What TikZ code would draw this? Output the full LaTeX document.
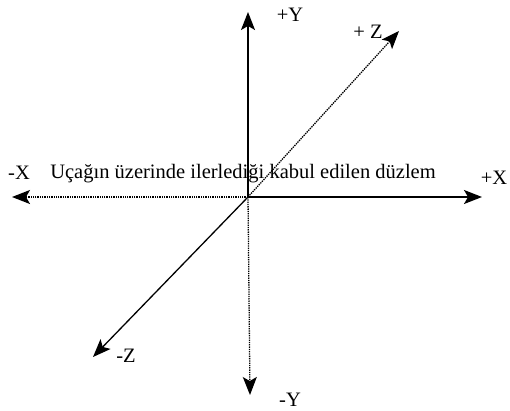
\documentclass[tikz,border=0pt]{standalone}
\usepackage{fontspec}
\setmainfont{Liberation Serif}
\usetikzlibrary{arrows.meta}

\begin{document}
\begin{tikzpicture}[
    x=1pt, y=1pt,
    >={Stealth[length=18pt, width=14pt, inset=4pt]},
    axis/.style={->, line width=1.3pt},
    dotaxis/.style={->, line width=1.3pt, densely dotted},
    lbl/.style={font=\fontsize{20.5}{23}\selectfont, inner sep=0pt}
]
    \useasboundingbox (0,0) rectangle (510,410);

    % Origin and axis ends
    \coordinate (o) at (248,213);
    \coordinate (xpos) at (482,213);
    \coordinate (xneg) at (12,213);
    \coordinate (ypos) at (248,398);
    \coordinate (yneg) at (250,15);
    \coordinate (zpos) at (399,379);
    \coordinate (zneg) at (93,53);

    % Axes
    \draw[axis] (o) -- (xpos);
    \draw[dotaxis] (o) -- (xneg);
    \draw[axis] (o) -- (ypos);
    \draw[dotaxis] (o) -- (yneg);
    \draw[dotaxis] (o) -- (zpos);
    \draw[axis] (o) -- (zneg);

    % Labels
    \node[lbl] (lxpos) at (494,232) {+X};
    \node[lbl] (lxneg) at (19,237) {-X};
    \node[lbl] (lypos) at (290,395) {+Y};
    \node[lbl] (lyneg) at (290,10) {-Y};
    \node[lbl] (lzpos) at (368,378) {+ Z};
    \node[lbl] (lzneg) at (126,54) {-Z};
    \node[lbl] (plane) at (243,236) {Uçağın üzerinde ilerlediği kabul edilen düzlem};

\end{tikzpicture}
\end{document}
